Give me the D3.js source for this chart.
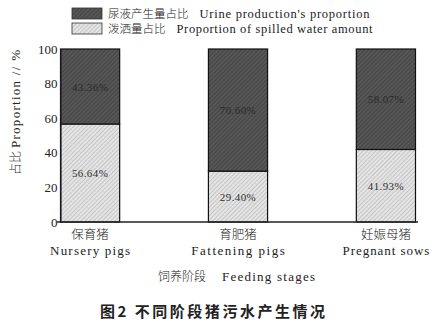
<!DOCTYPE html>
<html>
<head>
<meta charset="utf-8">
<script src="https://cdn.jsdelivr.net/npm/d3@7"></script>
<style>
  html, body { margin: 0; padding: 0; background: #fff; }
  svg { display: block; }
  text { font-family: "Liberation Serif", "Noto Sans CJK SC", serif; fill: #222; }
  .cjk { font-family: "Noto Sans CJK SC", sans-serif; font-weight: 300; }
</style>
</head>
<body>
<svg id="chart" width="437" height="327"></svg>
<script>
// Feeding stages (Chinese / English) and wastewater shares in %
const stagesZh = ["保育猪", "育肥猪", "妊娠母猪"];
const stagesEn = ["Nursery pigs", "Fattening pigs", "Pregnant sows"];
const spilledShare = [56.64, 29.40, 41.93];
const urineShare = [43.36, 70.60, 58.07];
const yTicks = [0, 20, 40, 60, 80, 100];

const svg = d3.select("#chart");
const margin = { left: 60.5, right: 21.5, top: 49, bottom: 105 };
const W = 437, H = 327;

const x = d3.scaleBand()
  .domain(stagesZh)
  .range([margin.left, W - margin.right])
  .paddingInner(0.6)
  .paddingOuter(0);

const y = d3.scaleLinear()
  .domain([0, 100])
  .range([H - margin.bottom, margin.top]);

// Hatch patterns for the two stacked segments
const defs = svg.append("defs");
const dark = defs.append("pattern")
  .attr("id", "hatchDark").attr("patternUnits", "userSpaceOnUse")
  .attr("width", 3).attr("height", 3).attr("patternTransform", "rotate(45)");
dark.append("rect").attr("width", 3).attr("height", 3).attr("fill", "#4b4b4b");
dark.append("line").attr("x1", 0).attr("y1", 0).attr("x2", 0).attr("y2", 3)
  .attr("stroke", "#6a6a6a").attr("stroke-width", 1);

const light = defs.append("pattern")
  .attr("id", "hatchLight").attr("patternUnits", "userSpaceOnUse")
  .attr("width", 3).attr("height", 3).attr("patternTransform", "rotate(45)");
light.append("rect").attr("width", 3).attr("height", 3).attr("fill", "#e4e4e4");
light.append("line").attr("x1", 0).attr("y1", 0).attr("x2", 0).attr("y2", 3)
  .attr("stroke", "#a8a8a8").attr("stroke-width", 1);

// Stack layout
const rows = stagesZh.map((s, i) => ({ stage: s, spilled: spilledShare[i], urine: urineShare[i] }));
const stack = d3.stack().keys(["spilled", "urine"])(rows);
const fills = { spilled: "url(#hatchLight)", urine: "url(#hatchDark)" };

const layers = svg.append("g").selectAll("g")
  .data(stack).join("g")
  .attr("fill", d => fills[d.key]);

layers.selectAll("rect")
  .data(d => d).join("rect")
  .attr("x", d => x(d.data.stage))
  .attr("y", d => y(d[1]))
  .attr("width", x.bandwidth())
  .attr("height", d => y(d[0]) - y(d[1]))
  .attr("stroke", "#111")
  .attr("stroke-width", 1.2);

// Value labels centred in each segment
layers.selectAll("text")
  .data(d => d.map(v => ({ v, key: d.key }))).join("text")
  .attr("x", d => x(d.v.data.stage) + x.bandwidth() / 2)
  .attr("y", d => (y(d.v[0]) + y(d.v[1])) / 2 + 4)
  .attr("text-anchor", "middle")
  .attr("font-size", 11)
  .attr("letter-spacing", 0.4)
  .style("fill", d => d.key === "urine" ? "#2a2a2a" : "#333")
  .text(d => d.v.data[d.key].toFixed(2) + "%");

// Y axis
const yAxis = svg.append("g")
  .attr("transform", `translate(${margin.left},0)`)
  .call(d3.axisLeft(y).tickValues(yTicks).tickSize(0).tickPadding(3));
yAxis.select(".domain").attr("stroke", "#222").attr("stroke-width", 1.2);
yAxis.selectAll("text").attr("font-size", 13).style("font-family", "Liberation Serif");

// X axis baseline and category labels
svg.append("line")
  .attr("x1", 57).attr("x2", 418)
  .attr("y1", y(0)).attr("y2", y(0))
  .attr("stroke", "#222").attr("stroke-width", 1.5);

// Latin labels are spread out like a half-width typewriter face
const enWidth = s => s.length * 6.67;

const cat = svg.append("g").selectAll("g")
  .data(stagesZh).join("g")
  .attr("transform", d => `translate(${x(d) + x.bandwidth() / 2},0)`);
cat.append("text")
  .attr("class", "cjk")
  .attr("y", 239).attr("text-anchor", "middle")
  .attr("font-size", 12.5)
  .text(d => d);
cat.append("text")
  .attr("x", (d, i) => -enWidth(stagesEn[i]) / 2)
  .attr("y", 255)
  .attr("font-size", 13)
  .attr("textLength", (d, i) => enWidth(stagesEn[i]))
  .attr("lengthAdjust", "spacing")
  .text((d, i) => stagesEn[i]);

// Two-part (CJK + Latin) label: Latin part stretched to a given width
function pair(g, zh, en, x0, zhSize, gap, enLen, enSize = 13) {
  g.append("text").attr("class", "cjk").attr("x", x0).attr("font-size", zhSize).text(zh);
  const zhW = zh.length * zhSize;
  g.append("text")
    .attr("x", x0 + zhW + gap)
    .attr("font-size", enSize)
    .attr("textLength", enLen)
    .attr("lengthAdjust", "spacing")
    .text(en);
}

// Axis titles
const yTitle = svg.append("g").attr("transform", "translate(20,175) rotate(-90)");
pair(yTitle, "占比", "Proportion // %", 0, 12, 3, 98);

const xTitle = svg.append("g").attr("transform", "translate(0,281)");
pair(xTitle, "饲养阶段", "Feeding stages", 158, 12, 16, 93);

// Caption
svg.append("text")
  .attr("x", 100).attr("y", 317)
  .attr("font-size", 15)
  .attr("textLength", 225)
  .attr("lengthAdjust", "spacing")
  .style("font-family", "Noto Sans CJK SC")
  .style("font-weight", 700)
  .text("图2 不同阶段猪污水产生情况");

// Legend
const legendItems = [
  { fill: "url(#hatchDark)", zh: "尿液产生量占比", en: "Urine production's proportion", len: 170 },
  { fill: "url(#hatchLight)", zh: "泼洒量占比", en: "Proportion of spilled water amount", len: 196 }
];
const legend = svg.append("g").selectAll("g")
  .data(legendItems).join("g")
  .attr("transform", (d, i) => `translate(0,${8 + i * 15})`);
legend.append("rect")
  .attr("x", 72)
  .attr("width", 30).attr("height", 11)
  .attr("fill", d => d.fill)
  .attr("stroke", "#333").attr("stroke-width", 0.8);
legend.each(function (d) {
  const row = d3.select(this).append("g").attr("transform", "translate(0,10)");
  pair(row, d.zh, d.en, 108, 11.5, 11, d.len, 12.5);
});
</script>
</body>
</html>
